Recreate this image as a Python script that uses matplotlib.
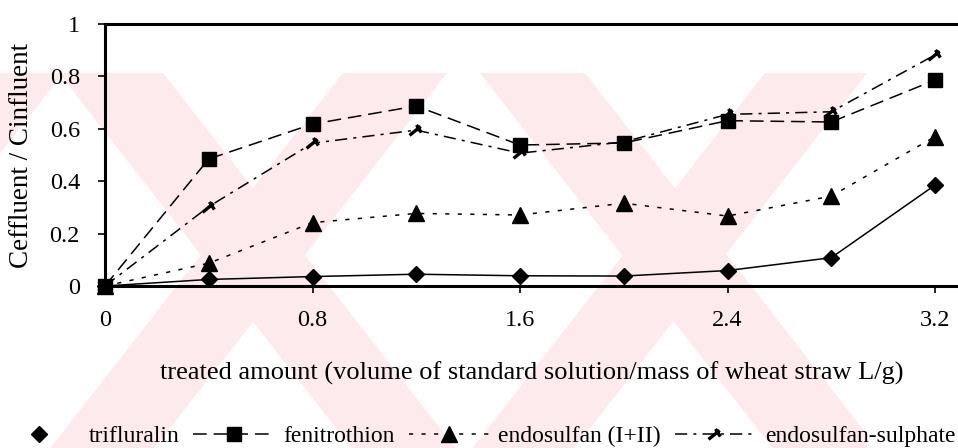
import numpy as np
import matplotlib
matplotlib.use('Agg')
import matplotlib.pyplot as plt
from matplotlib.path import Path
from matplotlib.lines import Line2D
from matplotlib.patches import Polygon, Rectangle

# breakthrough data, Ceffluent/Cinfluent against treated amount (L/g)
treated = [0, 0.4, 0.8, 1.2, 1.6, 2.0, 2.4, 2.8, 3.2]
trifluralin = [0, 0.025, 0.036, 0.045, 0.039, 0.038, 0.059, 0.108, 0.385]
fenitrothion = [0, 0.485, 0.618, 0.687, 0.538, 0.546, 0.631, 0.626, 0.786]
endosulfan = [0, 0.087, 0.242, 0.277, 0.271, 0.316, 0.267, 0.343, 0.570]
endosulfan_sulphate = [0, 0.303, 0.545, 0.595, 0.507, 0.550, 0.655, 0.665, 0.882]

names = ['trifluralin', 'fenitrothion', 'endosulfan (I+II)', 'endosulfan-sulphate']
x_ticks = [0, 0.8, 1.6, 2.4, 3.2]
x_ticklabels = ['0', '0.8', '1.6', '2.4', '3.2']
y_ticks = [0, 0.2, 0.4, 0.6, 0.8, 1.0]
y_ticklabels = ['0', '0.2', '0.4', '0.6', '0.8', '1']

plt.rcParams['font.family'] = ['Liberation Serif', 'DejaVu Serif']

W, H = 958, 448
fig = plt.figure(figsize=(W / 100., H / 100.), dpi=100)
fig.patch.set_facecolor('white')

def px(x, y):
    # pixel position (origin top left) -> figure fraction
    return (x / float(W), 1 - y / float(H))

# faint pink stripes in the background
pink = '#fdeaed'
clip = Rectangle(px(0, 448), 867 / float(W), (448 - 73) / float(H),
                 transform=fig.transFigure, facecolor='none', edgecolor='none')
fig.patches.append(clip)
y0, y1 = 73, 448
d = (y1 - y0) * 0.78

def stripe(a, b, sign):
    poly = Polygon([px(a, y0), px(b, y0), px(b + sign * d, y1), px(a + sign * d, y1)],
                   closed=True, transform=fig.transFigure, facecolor=pink,
                   edgecolor='none', zorder=-5)
    poly.set_clip_path(clip)
    fig.patches.append(poly)

for a, b in [(59, 163), (480, 585)]:
    stripe(a, b, 1)
for a, b in [(-41, 63), (343, 447), (765, 867)]:
    stripe(a, b, -1)

ax = fig.add_axes([105. / W, (H - 286.) / H, (W - 105.) / W, 262. / H])
ax.patch.set_alpha(0)

# hand made marker for the sulphate
sulph_marker = Path([(-1, -0.7), (0.6, 0.6), (0.0, 0.8), (0.7, -0.3)],
                    [Path.MOVETO, Path.LINETO, Path.MOVETO, Path.LINETO])

lw = 1.1
l1, = ax.plot(treated, trifluralin, color='k', lw=lw, ls='-',
              marker='D', ms=8.5, clip_on=False, zorder=5)
l2, = ax.plot(treated, fenitrothion, color='k', lw=lw, ls=(0, (9, 4.5)),
              marker='s', ms=10.5, clip_on=False, zorder=5)
l3, = ax.plot(treated, endosulfan, color='k', lw=lw, ls=(0, (2.7, 5.5)),
              marker='^', ms=12, clip_on=False, zorder=5)
l4, = ax.plot(treated, endosulfan_sulphate, color='k', lw=lw,
              ls=(0, (8, 4, 2, 4)), marker=sulph_marker, ms=10, mew=2.4,
              clip_on=False, zorder=5)

ax.set_xlim(0, (W - 105.) / ((935 - 105.) / 3.2))
ax.set_ylim(0, 1)
ax.set_xticks(x_ticks)
ax.set_xticklabels(x_ticklabels)
ax.set_yticks(y_ticks)
ax.set_yticklabels(y_ticklabels)
ax.tick_params(axis='x', direction='out', length=5, width=1.2, pad=12,
               labelsize=17.5)
ax.tick_params(axis='y', direction='out', length=5, width=1.2, pad=13,
               labelsize=17.5)
ax.spines['right'].set_visible(False)
for s in ['left', 'top', 'bottom']:
    ax.spines[s].set_linewidth(2.2)

ax.set_xlabel('treated amount (volume of standard solution/mass of wheat straw L/g)',
              fontsize=19, labelpad=22)
ax.set_ylabel('Ceffluent / Cinfluent', fontsize=19.5, labelpad=11)

# legend along the bottom, trifluralin drawn as marker only
h1 = Line2D([], [], color='k', ls='none', marker='D', ms=8.5)
fig.legend([h1, l2, l3, l4], names, loc='lower center', ncol=4,
           bbox_to_anchor=(0.498, -0.045), frameon=False, fontsize=17,
           handlelength=3.4, handletextpad=0.4, columnspacing=0.6)

fig.savefig('out.png', dpi=100)
